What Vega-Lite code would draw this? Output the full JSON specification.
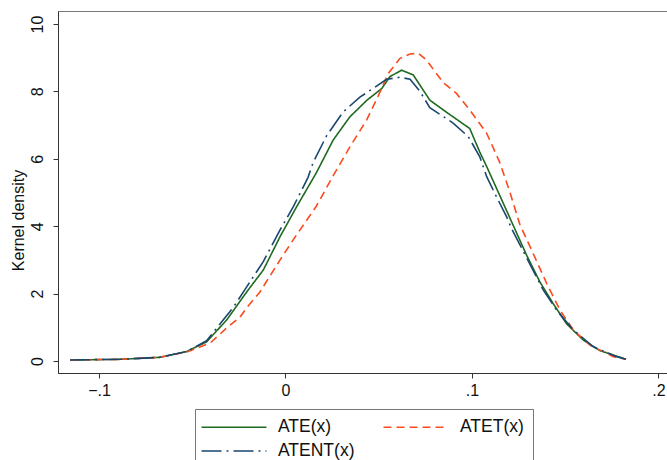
{
  "$schema": "https://vega.github.io/schema/vega-lite/v6.json",
  "autosize": "none",
  "width": 609,
  "height": 362,
  "padding": {"left": 58, "top": 11, "right": 0, "bottom": 87},
  "background": "white",
  "config": {
    "font": "Liberation Sans",
    "view": {"stroke": "#777", "strokeWidth": 1},
    "axis": {"grid": false, "domainColor": "#333", "tickColor": "#333", "labelColor": "#111", "titleColor": "#111", "labelFont": "Liberation Sans", "titleFont": "Liberation Sans", "titleFontWeight": "normal"},
    "legend": {"orient": "none", "legendX": 137, "legendY": 398, "direction": "horizontal", "columns": 2, "symbolType": "M-4,0H4", "symbolSize": 264, "symbolOffset": 21, "symbolStrokeWidth": 1.6, "labelFontSize": 17.5, "labelOffset": 35, "rowPadding": 6, "columnPadding": 25, "padding": 9, "strokeColor": "#777", "labelColor": "#111", "labelFont": "Liberation Sans"}
  },
  "data": {"values": [
    {"series": "ATE(x)", "x": -0.1155, "y": 0.03},
    {"series": "ATE(x)", "x": -0.0887, "y": 0.05},
    {"series": "ATE(x)", "x": -0.0673, "y": 0.11},
    {"series": "ATE(x)", "x": -0.053, "y": 0.28},
    {"series": "ATE(x)", "x": -0.0423, "y": 0.57},
    {"series": "ATE(x)", "x": -0.0315, "y": 1.22},
    {"series": "ATE(x)", "x": -0.0208, "y": 2.05},
    {"series": "ATE(x)", "x": -0.0119, "y": 2.7},
    {"series": "ATE(x)", "x": -0.0029, "y": 3.69},
    {"series": "ATE(x)", "x": 0.006, "y": 4.58},
    {"series": "ATE(x)", "x": 0.0165, "y": 5.58},
    {"series": "ATE(x)", "x": 0.0256, "y": 6.56},
    {"series": "ATE(x)", "x": 0.0346, "y": 7.25},
    {"series": "ATE(x)", "x": 0.0437, "y": 7.74},
    {"series": "ATE(x)", "x": 0.0517, "y": 8.09},
    {"series": "ATE(x)", "x": 0.056, "y": 8.44},
    {"series": "ATE(x)", "x": 0.0623, "y": 8.63},
    {"series": "ATE(x)", "x": 0.0685, "y": 8.49},
    {"series": "ATE(x)", "x": 0.0774, "y": 7.74},
    {"series": "ATE(x)", "x": 0.0864, "y": 7.38},
    {"series": "ATE(x)", "x": 0.0988, "y": 6.9},
    {"series": "ATE(x)", "x": 0.1042, "y": 6.2},
    {"series": "ATE(x)", "x": 0.1079, "y": 5.77},
    {"series": "ATE(x)", "x": 0.1168, "y": 4.68},
    {"series": "ATE(x)", "x": 0.122, "y": 4.04},
    {"series": "ATE(x)", "x": 0.1293, "y": 3.14},
    {"series": "ATE(x)", "x": 0.1365, "y": 2.34},
    {"series": "ATE(x)", "x": 0.1436, "y": 1.7},
    {"series": "ATE(x)", "x": 0.1508, "y": 1.1},
    {"series": "ATE(x)", "x": 0.1597, "y": 0.62},
    {"series": "ATE(x)", "x": 0.1686, "y": 0.31},
    {"series": "ATE(x)", "x": 0.1826, "y": 0.05},
    {"series": "ATET(x)", "x": -0.1155, "y": 0.03},
    {"series": "ATET(x)", "x": -0.0887, "y": 0.05},
    {"series": "ATET(x)", "x": -0.0673, "y": 0.11},
    {"series": "ATET(x)", "x": -0.053, "y": 0.27},
    {"series": "ATET(x)", "x": -0.0405, "y": 0.53},
    {"series": "ATET(x)", "x": -0.0351, "y": 0.8},
    {"series": "ATET(x)", "x": -0.0316, "y": 0.98},
    {"series": "ATET(x)", "x": -0.0244, "y": 1.3},
    {"series": "ATET(x)", "x": -0.0208, "y": 1.58},
    {"series": "ATET(x)", "x": -0.0137, "y": 2.05},
    {"series": "ATET(x)", "x": -0.0029, "y": 3.0},
    {"series": "ATET(x)", "x": 0.0042, "y": 3.6},
    {"series": "ATET(x)", "x": 0.0166, "y": 4.6},
    {"series": "ATET(x)", "x": 0.0256, "y": 5.5},
    {"series": "ATET(x)", "x": 0.0346, "y": 6.36},
    {"series": "ATET(x)", "x": 0.0435, "y": 7.15},
    {"series": "ATET(x)", "x": 0.0497, "y": 7.86},
    {"series": "ATET(x)", "x": 0.0552, "y": 8.54},
    {"series": "ATET(x)", "x": 0.0614, "y": 8.98},
    {"series": "ATET(x)", "x": 0.0668, "y": 9.11},
    {"series": "ATET(x)", "x": 0.0713, "y": 9.13},
    {"series": "ATET(x)", "x": 0.0756, "y": 8.93},
    {"series": "ATET(x)", "x": 0.0846, "y": 8.26},
    {"series": "ATET(x)", "x": 0.0917, "y": 7.94},
    {"series": "ATET(x)", "x": 0.0988, "y": 7.45},
    {"series": "ATET(x)", "x": 0.1078, "y": 6.77},
    {"series": "ATET(x)", "x": 0.115, "y": 5.88},
    {"series": "ATET(x)", "x": 0.1204, "y": 5.0},
    {"series": "ATET(x)", "x": 0.1257, "y": 4.05},
    {"series": "ATET(x)", "x": 0.1311, "y": 3.4},
    {"series": "ATET(x)", "x": 0.1401, "y": 2.3},
    {"series": "ATET(x)", "x": 0.1472, "y": 1.51},
    {"series": "ATET(x)", "x": 0.1544, "y": 0.92},
    {"series": "ATET(x)", "x": 0.1633, "y": 0.47},
    {"series": "ATET(x)", "x": 0.1758, "y": 0.13},
    {"series": "ATET(x)", "x": 0.1826, "y": 0.05},
    {"series": "ATENT(x)", "x": -0.1155, "y": 0.03},
    {"series": "ATENT(x)", "x": -0.0887, "y": 0.05},
    {"series": "ATENT(x)", "x": -0.0673, "y": 0.11},
    {"series": "ATENT(x)", "x": -0.053, "y": 0.28},
    {"series": "ATENT(x)", "x": -0.0423, "y": 0.6},
    {"series": "ATENT(x)", "x": -0.0279, "y": 1.6},
    {"series": "ATENT(x)", "x": -0.0208, "y": 2.2},
    {"series": "ATENT(x)", "x": -0.0119, "y": 2.95},
    {"series": "ATENT(x)", "x": -0.0029, "y": 3.89},
    {"series": "ATENT(x)", "x": 0.0042, "y": 4.58},
    {"series": "ATENT(x)", "x": 0.0121, "y": 5.45},
    {"series": "ATENT(x)", "x": 0.0149, "y": 5.9},
    {"series": "ATENT(x)", "x": 0.022, "y": 6.68},
    {"series": "ATENT(x)", "x": 0.0309, "y": 7.39},
    {"series": "ATENT(x)", "x": 0.0399, "y": 7.83},
    {"series": "ATENT(x)", "x": 0.0462, "y": 8.06},
    {"series": "ATENT(x)", "x": 0.0542, "y": 8.36},
    {"series": "ATENT(x)", "x": 0.0614, "y": 8.42},
    {"series": "ATENT(x)", "x": 0.0668, "y": 8.36},
    {"series": "ATENT(x)", "x": 0.0721, "y": 8.0},
    {"series": "ATENT(x)", "x": 0.0774, "y": 7.52},
    {"series": "ATENT(x)", "x": 0.0899, "y": 7.06},
    {"series": "ATENT(x)", "x": 0.098, "y": 6.66},
    {"series": "ATENT(x)", "x": 0.1042, "y": 6.06},
    {"series": "ATENT(x)", "x": 0.1079, "y": 5.47},
    {"series": "ATENT(x)", "x": 0.1131, "y": 4.88},
    {"series": "ATENT(x)", "x": 0.1186, "y": 4.28},
    {"series": "ATENT(x)", "x": 0.1213, "y": 3.92},
    {"series": "ATENT(x)", "x": 0.1288, "y": 3.12},
    {"series": "ATENT(x)", "x": 0.1382, "y": 2.11},
    {"series": "ATENT(x)", "x": 0.1454, "y": 1.51},
    {"series": "ATENT(x)", "x": 0.1544, "y": 0.92},
    {"series": "ATENT(x)", "x": 0.1651, "y": 0.42},
    {"series": "ATENT(x)", "x": 0.1776, "y": 0.13},
    {"series": "ATENT(x)", "x": 0.1826, "y": 0.05}
  ]},
  "mark": {"type": "line", "strokeWidth": 1.6, "clip": true},
  "encoding": {
    "x": {
      "field": "x", "type": "quantitative",
      "scale": {"domain": [-0.122, 0.2046], "nice": false, "zero": false},
      "axis": {"values": [-0.1, 0, 0.1, 0.2], "labelExpr": "replace(format(datum.value, '.1~f'), '0.', '.')", "title": null, "labelFontSize": 16, "tickSize": 5, "labelPadding": 4, "labelFlush": false}
    },
    "y": {
      "field": "y", "type": "quantitative",
      "scale": {"domain": [-0.356, 10.386], "nice": false, "zero": false},
      "axis": {"values": [0, 2, 4, 6, 8, 10], "title": "Kernel density", "titleFontSize": 16, "titleX": -40, "titleY": 209, "titleAngle": -90, "titleAlign": "center", "titleBaseline": "middle", "labelFontSize": 16, "labelAngle": -90, "labelAlign": "center", "labelBaseline": "bottom", "tickSize": 5, "labelPadding": 8}
    },
    "color": {
      "field": "series", "type": "nominal",
      "scale": {"domain": ["ATE(x)", "ATET(x)", "ATENT(x)"], "range": ["#1f6a21", "#fa4a1e", "#1a476f"]},
      "legend": {"title": null}
    },
    "strokeDash": {
      "field": "series", "type": "nominal",
      "scale": {"domain": ["ATE(x)", "ATET(x)", "ATENT(x)"], "range": [[1, 0], [8, 5], [20, 5, 2, 5]]},
      "legend": {"title": null}
    }
  }
}
